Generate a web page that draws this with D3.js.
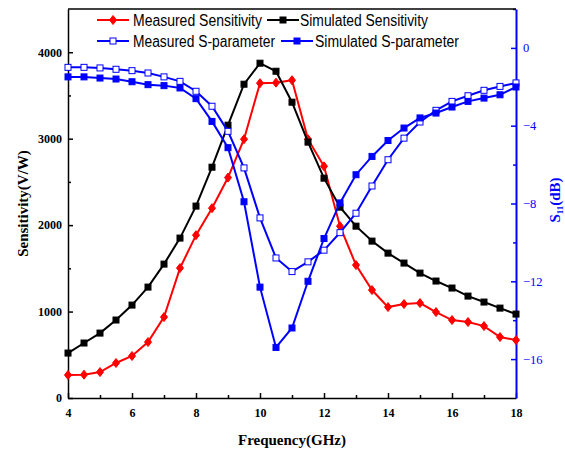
<!DOCTYPE html>
<html>
<head>
<meta charset="utf-8">
<script src="https://cdn.jsdelivr.net/npm/d3@7"></script>
<style>
  body { margin: 0; background: #fff; }
  svg text { font-family: "Liberation Serif", "Times New Roman", serif; }
  .legend text { font-family: "Liberation Sans", Arial, sans-serif; }
</style>
</head>
<body>
<svg id="chart" width="565" height="450"></svg>
<script>
// frequency points (GHz)
const freq = [4, 4.5, 5, 5.5, 6, 6.5, 7, 7.5, 8, 8.5, 9, 9.5, 10, 10.5, 11, 11.5, 12,
  12.5, 13, 13.5, 14, 14.5, 15, 15.5, 16, 16.5, 17, 17.5, 18];

// sensitivity (V/W)
const measuredSens = [266, 270, 300, 405, 486, 647, 936, 1503, 1884, 2196, 2550, 2994, 3642,
  3648, 3676, 2994, 2680, 1988, 1538, 1249, 1052, 1087, 1098, 994, 902, 879, 832, 705, 670];
const simulatedSens = [520, 636, 751, 902, 1075, 1283, 1549, 1850, 2220, 2670, 3156, 3630, 3873,
  3780, 3422, 2960, 2543, 2208, 1988, 1815, 1676, 1561, 1445, 1353, 1272, 1179, 1110, 1040, 971];

// S11 (dB)
const measuredS11 = [-1.0, -1.0, -1.03, -1.1, -1.17, -1.29, -1.49, -1.72, -2.23, -3.0, -4.29, -6.17,
  -8.74, -10.8, -11.5, -11.0, -10.4, -9.5, -8.5, -7.1, -5.75, -4.64, -3.81, -3.21, -2.75, -2.46,
  -2.18, -1.98, -1.8];
const simulatedS11 = [-1.49, -1.49, -1.55, -1.6, -1.74, -1.89, -1.94, -2.06, -2.61, -3.78, -5.13, -7.91,
  -12.3, -15.4, -14.4, -12.0, -9.8, -7.97, -6.52, -5.58, -4.76, -4.12, -3.6, -3.35, -3.04, -2.75,
  -2.58, -2.41, -2.01];

const xTicks = [4, 6, 8, 10, 12, 14, 16, 18];
const leftTicks = [0, 1000, 2000, 3000, 4000];
const rightTicks = [0, -4, -8, -12, -16];

const margin = { left: 68, right: 49, top: 9, bottom: 52 };
const W = 565, H = 450;
const width = W - margin.left - margin.right;
const height = H - margin.top - margin.bottom;

const svg = d3.select("#chart");
const g = svg.append("g").attr("transform", `translate(${margin.left},${margin.top})`);

const x = d3.scaleLinear().domain([4, 18]).range([0, width]);
const yL = d3.scaleLinear().domain([0, 4500]).range([height, 0]);
const yR = d3.scaleLinear().domain([-18, 2]).range([height, 0]);

//// axes (ticks point inward)
// bottom
const xa = g.append("g").attr("transform", `translate(0,${height})`)
  .call(d3.axisBottom(x).tickValues(xTicks).tickSize(-5).tickSizeOuter(0).tickPadding(10));
const xm = g.append("g").attr("transform", `translate(0,${height})`)
  .call(d3.axisBottom(x).tickValues(d3.range(5, 18, 2)).tickSize(-3).tickFormat("").tickSizeOuter(0));
xm.select(".domain").remove();

// left
const ya = g.append("g")
  .call(d3.axisLeft(yL).tickValues(leftTicks).tickSize(-5).tickSizeOuter(0).tickPadding(6).tickFormat(d3.format("d")));
const ym = g.append("g")
  .call(d3.axisLeft(yL).tickValues([500, 1500, 2500, 3500]).tickSize(-3).tickFormat("").tickSizeOuter(0));
ym.select(".domain").remove();

[xa, ya].forEach(a => {
  a.selectAll("text").attr("font-size", 12).attr("font-weight", "bold").attr("fill", "#000");
});
[xa, ya, xm, ym].forEach(a => a.selectAll("line, path").attr("stroke", "#000").attr("stroke-width", 1.5));

// right
const ra = g.append("g").attr("transform", `translate(${width},0)`)
  .call(d3.axisRight(yR).tickValues(rightTicks).tickSize(-5).tickSizeOuter(0).tickPadding(7));
const rm = g.append("g").attr("transform", `translate(${width},0)`)
  .call(d3.axisRight(yR).tickValues([2, -2, -6, -10, -14]).tickSize(-3).tickFormat("").tickSizeOuter(0));
rm.select(".domain").remove();
ra.selectAll("text").attr("font-size", 12.5).attr("fill", "#0000ff");
ra.selectAll("line").attr("stroke", "#0000ff").attr("stroke-width", 1.5);
ra.select(".domain").attr("stroke", "#0000ff").attr("stroke-width", 2);
rm.selectAll("line").attr("stroke", "#0000ff").attr("stroke-width", 1.5);

// top frame line
g.append("line").attr("x1", 0).attr("x2", width).attr("y1", 0).attr("y2", 0)
  .attr("stroke", "#000").attr("stroke-width", 1.5);

// axis labels
svg.append("text")
  .attr("transform", `translate(28,${margin.top + height / 2}) rotate(-90)`)
  .attr("text-anchor", "middle")
  .attr("font-size", 15).attr("font-weight", "bold")
  .text("Sensitivity(V/W)");

svg.append("text")
  .attr("x", margin.left + width / 2).attr("y", 445)
  .attr("text-anchor", "middle")
  .attr("font-size", 15).attr("font-weight", "bold")
  .text("Frequency(GHz)");

const s11 = svg.append("text")
  .attr("transform", `translate(560,200) rotate(-90)`)
  .attr("text-anchor", "middle")
  .attr("font-size", 15).attr("font-weight", "bold").attr("fill", "#0000ff");
s11.append("tspan").text("S");
s11.append("tspan").attr("font-size", 9).attr("dy", 3).text("11");
s11.append("tspan").attr("dy", -3).text("(dB)");

//// series
const series = [
  { name: "Measured Sensitivity", vals: measuredSens, y: yL, color: "#ff0000", marker: "diamond", fill: "#ff0000" },
  { name: "Simulated Sensitivity", vals: simulatedSens, y: yL, color: "#000000", marker: "square", fill: "#000000" },
  { name: "Measured S-parameter", vals: measuredS11, y: yR, color: "#0000ff", marker: "square", fill: "#ffffff" },
  { name: "Simulated S-parameter", vals: simulatedS11, y: yR, color: "#0000ff", marker: "square", fill: "#0000ff" }
];

function drawMarker(sel, s, cx, cy) {
  if (s.marker === "diamond") {
    sel.append("path")
      .attr("d", `M${cx},${cy - 4.5}L${cx + 3.5},${cy}L${cx},${cy + 4.5}L${cx - 3.5},${cy}Z`)
      .attr("fill", s.fill).attr("stroke", s.color).attr("stroke-width", 1);
  } else {
    sel.append("rect")
      .attr("x", cx - 3).attr("y", cy - 3).attr("width", 6).attr("height", 6)
      .attr("fill", s.fill).attr("stroke", s.color).attr("stroke-width", 1);
  }
}

const plot = g.append("g");
series.forEach(s => {
  const pts = freq.map((f, i) => ({ x: f, y: s.vals[i] }));
  plot.append("path")
    .datum(pts)
    .attr("fill", "none")
    .attr("stroke", s.color)
    .attr("stroke-width", 2)
    .attr("d", d3.line().x(d => x(d.x)).y(d => s.y(d.y)));
  const mg = plot.append("g");
  pts.forEach(d => drawMarker(mg, s, x(d.x), s.y(d.y)));
});

//// legend
const legend = svg.append("g").attr("class", "legend");
const legendPos = [
  { lx: 97, tx: 133, y: 20, len: 129 },
  { lx: 267, tx: 300, y: 20, len: 128 },
  { lx: 97, tx: 133, y: 41, len: 142 },
  { lx: 281, tx: 315, y: 41, len: 144 }
];
series.forEach((s, i) => {
  const p = legendPos[i];
  legend.append("line")
    .attr("x1", p.lx).attr("x2", p.lx + 32).attr("y1", p.y).attr("y2", p.y)
    .attr("stroke", s.color).attr("stroke-width", 2);
  drawMarker(legend, s, p.lx + 16, p.y);
  legend.append("text")
    .attr("x", p.tx).attr("y", p.y + 5.5)
    .attr("font-size", 16)
    .attr("textLength", p.len)
    .attr("lengthAdjust", "spacingAndGlyphs")
    .attr("fill", "#000")
    .text(s.name);
});
</script>
</body>
</html>
